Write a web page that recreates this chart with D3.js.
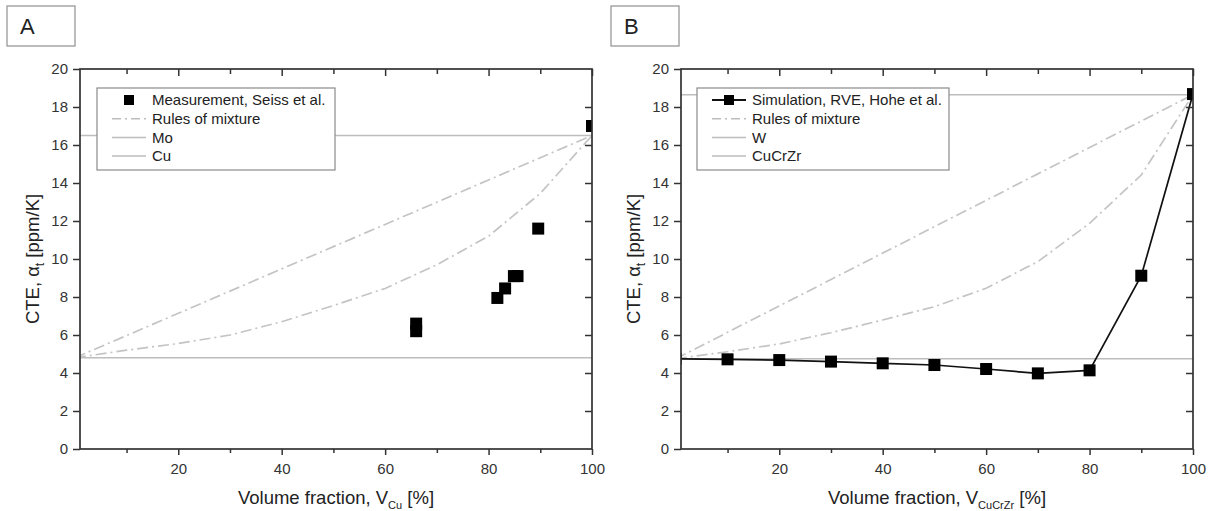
<!DOCTYPE html>
<html><head><meta charset="utf-8">
<script src="https://cdn.jsdelivr.net/npm/d3@7"></script>
<style>
body{margin:0;background:#fff;}
svg{display:block;font-family:"Liberation Sans",Arial,sans-serif;}
</style></head>
<body><svg id="c" width="1213" height="511"></svg>
<script>
// ---- data ----
const romX = [0,10,20,30,40,50,60,70,80,90,100];
// Panel A (Mo/Cu)
const romUpperA = [4.8,5.97,7.14,8.31,9.48,10.65,11.82,12.99,14.16,15.33,16.5];
const romLowerA = [4.8,5.2,5.55,6.0,6.7,7.55,8.45,9.7,11.2,13.45,16.5];
const measX = [66,66,81.7,83.2,84.9,85.6,89.6,100];
const measY = [6.2,6.6,7.95,8.45,9.1,9.1,11.6,17.0];
const moA = 4.8, cuA = 16.5;
// Panel B (W/CuCrZr)
const romUpperB = [4.75,6.14,7.53,8.92,10.31,11.7,13.09,14.48,15.87,17.26,18.65];
const romLowerB = [4.75,5.12,5.53,6.12,6.79,7.49,8.46,9.86,11.88,14.42,18.65];
const simX = [0,10,20,30,40,50,60,70,80,90,100];
const simY = [4.75,4.72,4.68,4.6,4.51,4.42,4.21,3.98,4.14,9.12,18.68];
const wB = 4.75, cucrzrB = 18.65;
// axes
const xDomain = [1,100];
const yDomain = [0,20];
const xTickMajor = [20,40,60,80,100];
const xTickMinor = [10,30,50,70,90];
const yTicks = [0,2,4,6,8,10,12,14,16,18,20];

const svg = d3.select("#c");
const gray = "#bdbdbd";
const axisCol = "#333";

function panel(opts){
  const {left,right,top,bottom,id} = opts;
  const x = d3.scaleLinear().domain(xDomain).range([left,right]);
  const y = d3.scaleLinear().domain(yDomain).range([bottom,top]);
  const g = svg.append("g");
  g.append("clipPath").attr("id",id).append("rect")
    .attr("x",left).attr("y",top).attr("width",right-left).attr("height",bottom-top);
  const plot = g.append("g").attr("clip-path",`url(#${id})`);

  opts.hlines.forEach(v=>{
    plot.append("line").attr("x1",left).attr("x2",right).attr("y1",y(v)).attr("y2",y(v))
      .attr("stroke",gray).attr("stroke-width",1.5);
  });
  const line = d3.line().x(d=>x(d[0])).y(d=>y(d[1]));
  [opts.romU, opts.romL].forEach(arr=>{
    plot.append("path").attr("d",line(romX.map((v,i)=>[v,arr[i]])))
      .attr("fill","none").attr("stroke","#c4c4c4").attr("stroke-width",1.7)
      .attr("stroke-dasharray","11,4,2,4");
  });
  if(opts.connect){
    plot.append("path").attr("d",line(opts.sx.map((v,i)=>[v,opts.sy[i]])))
      .attr("fill","none").attr("stroke","#111").attr("stroke-width",1.7);
  }
  // legend
  const lg = g.append("g");
  lg.append("rect").attr("x",opts.lgx).attr("y",88).attr("width",opts.lgw).attr("height",82)
    .attr("fill","#fff").attr("stroke","#8a8a8a").attr("stroke-width",1.2);
  const rows = [100,118.7,137.4,156];
  const sx0 = opts.lgx+15, sx1 = opts.lgx+49, tx = opts.lgx+55;
  opts.names.forEach((n,i)=>{
    const ry = rows[i];
    if(i===0){
      if(opts.connect) lg.append("line").attr("x1",sx0).attr("x2",sx1).attr("y1",ry).attr("y2",ry)
        .attr("stroke","#111").attr("stroke-width",2.2);
      lg.append("rect").attr("x",(sx0+sx1)/2-5).attr("y",ry-5).attr("width",10).attr("height",10).attr("fill","#000");
    } else {
      lg.append("line").attr("x1",sx0).attr("x2",sx1).attr("y1",ry).attr("y2",ry)
        .attr("stroke",gray).attr("stroke-width",1.5)
        .attr("stroke-dasharray", i===1 ? "9,4,2,4" : null);
    }
    lg.append("text").attr("x",tx).attr("y",ry+5.3).attr("font-size",15).attr("fill","#222").text(n);
  });
  plot.selectAll("rect.m").data(opts.sx.map((v,i)=>[v,opts.sy[i]])).enter().append("rect")
    .attr("x",d=>x(d[0])-6).attr("y",d=>y(d[1])-6).attr("width",12).attr("height",12)
    .attr("fill","#000");

  // axes
  const ax = g.append("g").attr("stroke",axisCol).attr("fill","none");
  ax.append("rect").attr("x",left).attr("y",top).attr("width",right-left).attr("height",bottom-top)
    .attr("stroke-width",1.7);
  const bAx = g.append("g").attr("transform",`translate(0,${bottom})`)
    .call(d3.axisBottom(x).tickValues(xTickMajor).tickSize(6).tickPadding(8).tickFormat(d3.format("d")));
  const bMin = g.append("g").attr("transform",`translate(0,${bottom})`)
    .call(d3.axisBottom(x).tickValues(xTickMinor).tickSize(4).tickFormat(""));
  const tAx = g.append("g").attr("transform",`translate(0,${top})`)
    .call(d3.axisBottom(x).tickValues(xTickMajor).tickSize(7).tickFormat(""));
  const tMin = g.append("g").attr("transform",`translate(0,${top})`)
    .call(d3.axisBottom(x).tickValues(xTickMinor).tickSize(5).tickFormat(""));
  const lAx = g.append("g").attr("transform",`translate(${left},0)`)
    .call(d3.axisLeft(y).tickValues(yTicks).tickSize(7).tickPadding(5).tickFormat(d3.format("d")));
  const rAx = g.append("g").attr("transform",`translate(${right},0)`)
    .call(d3.axisLeft(y).tickValues(yTicks.slice(1,-1)).tickSize(7).tickFormat(""));
  [bAx,bMin,tAx,tMin,lAx,rAx].forEach(a=>{
    a.select(".domain").remove();
    a.selectAll("line").attr("stroke",axisCol).attr("stroke-width",1.5);
    a.selectAll("text").attr("font-size",15).attr("fill","#333").attr("font-family","Liberation Sans, Arial, sans-serif");
  });

  const xt = g.append("text").attr("x",(left+right)/2).attr("y",504).attr("text-anchor","middle")
    .attr("font-size",18.5).attr("fill","#222");
  xt.append("tspan").text("Volume fraction, V");
  xt.append("tspan").attr("font-size",11).attr("dy",5).text(opts.sub);
  xt.append("tspan").attr("dy",-5).text(" [%]");

  const yt = g.append("text").attr("transform",`translate(${left-41},${(top+bottom)/2}) rotate(-90)`)
    .attr("text-anchor","middle").attr("font-size",18.5).attr("fill","#222");
  yt.append("tspan").text("CTE, α");
  yt.append("tspan").attr("font-size",12).attr("dy",5).text("t");
  yt.append("tspan").attr("dy",-5).text(" [ppm/K]");

  svg.append("rect").attr("x",opts.bx).attr("y",6).attr("width",68).attr("height",40)
    .attr("fill","#fff").attr("stroke","#999").attr("stroke-width",1.3);
  svg.append("text").attr("x",opts.bx+13).attr("y",34).attr("font-size",22).attr("fill","#222").text(opts.label);
}

panel({id:"clipA",left:80,right:592,top:69,bottom:449,hlines:[moA,cuA],romU:romUpperA,romL:romLowerA,
  sx:measX,sy:measY,connect:false,lgx:97,lgw:238,sub:"Cu",label:"A",bx:7,
  names:["Measurement, Seiss et al.","Rules of mixture","Mo","Cu"]});
panel({id:"clipB",left:681,right:1193,top:69,bottom:449,hlines:[wB,cucrzrB],romU:romUpperB,romL:romLowerB,
  sx:simX,sy:simY,connect:true,lgx:697,lgw:252,sub:"CuCrZr",label:"B",bx:611,
  names:["Simulation, RVE, Hohe et al.","Rules of mixture","W","CuCrZr"]});
</script></body></html>
